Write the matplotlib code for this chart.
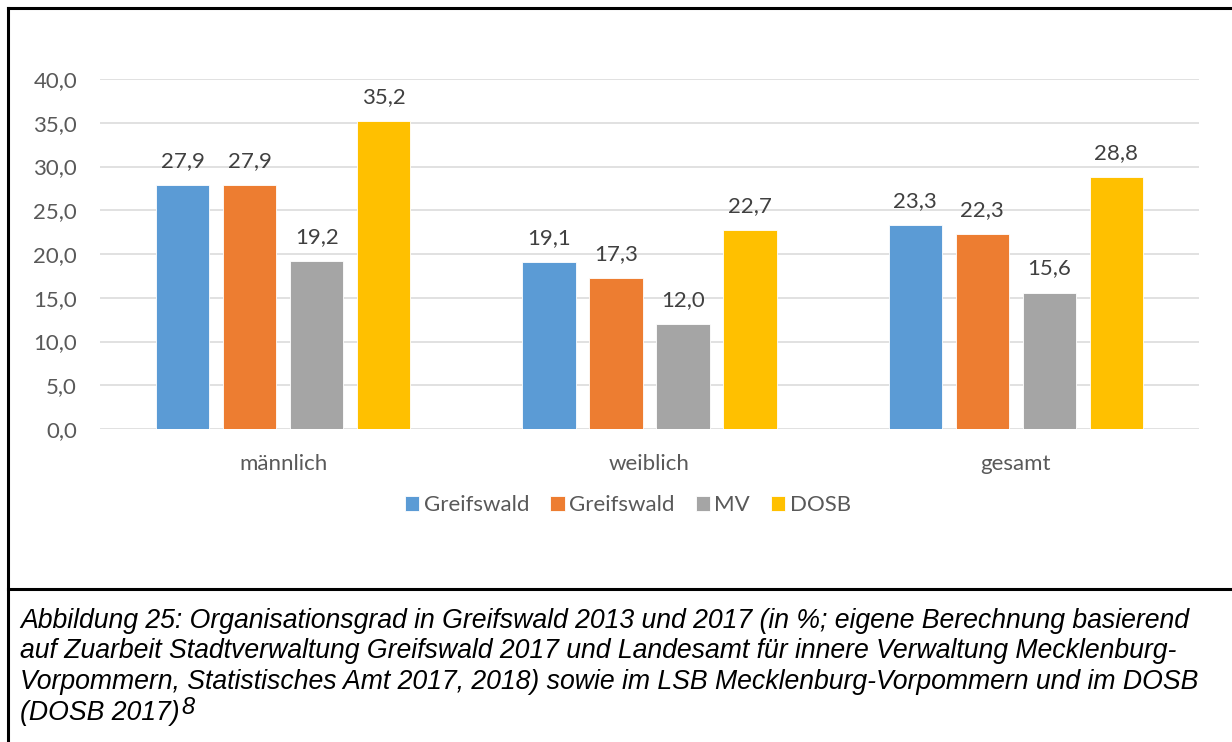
import matplotlib
matplotlib.use("Agg")
import matplotlib.pyplot as plt
import numpy as np

# Data (percent)
categories = ["männlich", "weiblich", "gesamt"]
series_names = ["Greifswald", "Greifswald", "MV", "DOSB"]
greifswald_2013 = [27.9, 19.1, 23.3]
greifswald_2017 = [27.9, 17.3, 22.3]
mv = [19.2, 12.0, 15.6]
dosb = [35.2, 22.7, 28.8]
yticks = [0, 5, 10, 15, 20, 25, 30, 35, 40]

colors = ["#5B9BD5", "#ED7D31", "#A5A5A5", "#FFC000"]
W, H = 1232, 742
FS = 16

fig = plt.figure(figsize=(W / 100, H / 100), dpi=100)
fig.patch.set_facecolor("white")

# plot area in pixels: x 100..1199, y 79 (40) .. 429 (0)
ax = fig.add_axes([100 / W, 1 - 429 / H, 1099 / W, 350 / H])
ax.set_xlim(-0.5, 2.5)
ax.set_ylim(0, 40)

x = np.arange(len(categories))
bar_w = 0.145
step = 0.183
all_series = [greifswald_2013, greifswald_2017, mv, dosb]
for i, (vals, col, name) in enumerate(zip(all_series, colors, series_names)):
    pos = x + (i - 1.5) * step
    bars = ax.bar(pos, vals, width=bar_w, color=col, edgecolor="white",
                  linewidth=0.6, label=name, zorder=3)
    for b, v in zip(bars, vals):
        ax.text(b.get_x() + b.get_width() / 2, v + 1.6, f"{v:.1f}".replace(".", ","),
                ha="center", va="bottom", fontsize=FS, color="#404040",
                family="Lato")

ax.set_yticks(yticks)
ax.set_yticklabels([f"{t:.1f}".replace(".", ",") for t in yticks],
                   fontsize=FS, color="#595959", family="Lato")
ax.set_xticks(x)
ax.set_xticklabels(categories, fontsize=FS, color="#595959", family="Lato")
ax.tick_params(axis="both", length=0)
ax.tick_params(axis="y", pad=16.5)
ax.tick_params(axis="x", pad=18)
ax.yaxis.grid(True, color="#D9D9D9", linewidth=1.1, zorder=0)
ax.set_axisbelow(True)
for s in ax.spines.values():
    s.set_visible(False)

leg = fig.legend(loc="center", bbox_to_anchor=(628 / W, 1 - 505 / H), ncol=4,
                 frameon=False, handlelength=0.64, handleheight=0.64,
                 handletextpad=0.2, columnspacing=0.95,
                 prop={"family": "Lato", "size": FS})
for t in leg.get_texts():
    t.set_color("#595959")

# frame lines
lw = 2.2
fig.add_artist(plt.Line2D([8 / W, 1], [1 - 8 / H] * 2, color="black", lw=lw))
fig.add_artist(plt.Line2D([8 / W] * 2, [0, 1 - 8 / H], color="black", lw=lw))
fig.add_artist(plt.Line2D([8 / W, 1], [1 - 589 / H] * 2, color="black", lw=lw))

# caption
caption = [
    "Abbildung 25: Organisationsgrad in Greifswald 2013 und 2017 (in %; eigene Berechnung basierend",
    "auf Zuarbeit Stadtverwaltung Greifswald 2017 und Landesamt für innere Verwaltung Mecklenburg-",
    "Vorpommern, Statistisches Amt 2017, 2018) sowie im LSB Mecklenburg-Vorpommern und im DOSB",
    "(DOSB 2017)",
]
baselines = [628, 658.5, 689, 719.5]
for line, yb in zip(caption, baselines):
    t = fig.text(20 / W, 1 - yb / H, line, ha="left", va="baseline",
                 fontsize=19.2, style="italic", family="Liberation Sans",
                 color="black")
fig.canvas.draw()
bb = t.get_window_extent()
fig.text((bb.x1 + 2) / W, 1 - 714 / H, "8", ha="left", va="baseline",
         fontsize=17, style="italic", family="Liberation Sans", color="black")

fig.savefig("out.png", dpi=100)
